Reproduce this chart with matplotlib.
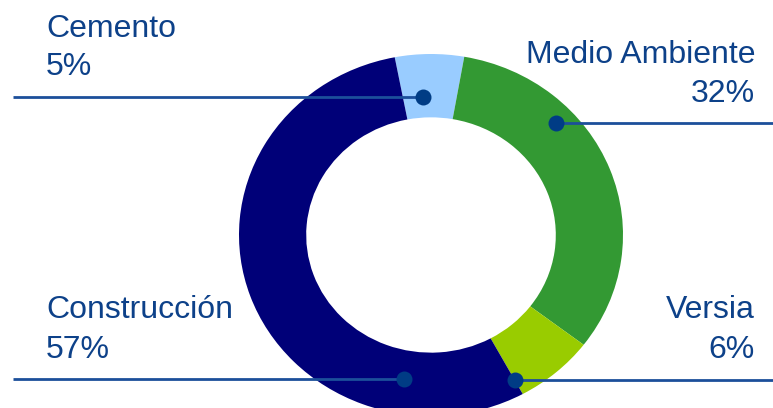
import matplotlib.pyplot as plt

# datos del gráfico
segmentos = ['Cemento', 'Medio Ambiente', 'Versia', 'Construcción']
porcentajes = ['5%', '32%', '6%', '57%']
cuotas = [5.8, 32.6, 6.7, 54.9]
colores = ['#99ccff', '#339933', '#99cc00', '#000078']

AZUL_TXT = '#0d4189'
AZUL_LINEA = '#1c4f9a'
AZUL_PUNTO = '#003c85'

W, H = 773, 408
fig = plt.figure(figsize=(W / 100, H / 100), dpi=100)
ax = fig.add_axes([0, 0, 1, 1])

# centro del anillo y escala (px por unidad) en cada eje
cx, cy = 431, 235
sx, sy = 192, 181

ax.pie(cuotas, colors=colores, startangle=100.9, counterclock=False,
       radius=1, wedgeprops=dict(width=0.35, linewidth=0))
ax.set_aspect('auto')
ax.set_xlim(-cx / sx, (W - cx) / sx)
ax.set_ylim(-(H - cy) / sy, cy / sy)
ax.axis('off')


def px(x, y):
    return (x - cx) / sx, (cy - y) / sy


# lineas guia: (y de la linea, x del punto, lado)
guias = [(97, 423, 'izq'), (123, 556, 'der'), (380, 515, 'der'), (379, 404, 'izq')]
for y, xp, lado in guias:
    x0 = 13 if lado == 'izq' else W
    a = px(x0, y)
    b = px(xp, y)
    ax.plot([a[0], b[0]], [a[1], b[1]], color=AZUL_LINEA, lw=2, clip_on=False,
            solid_capstyle='butt')
    ax.plot(b[0], b[1], 'o', ms=11.5, color=AZUL_PUNTO, mec='none', clip_on=False)

# etiquetas (x, baseline nombre, baseline porcentaje, alineacion)
pos_txt = [(46, 37, 75, 'left'), (755, 63, 102, 'right'),
           (755, 318, 358, 'right'), (46, 318, 358, 'left')]
for nombre, pct, (x, y1, y2, ha) in zip(segmentos, porcentajes, pos_txt):
    for t, y in ((nombre, y1), (pct, y2)):
        fig.text(x / W, 1 - y / H, t, ha=ha, va='baseline', fontsize=23,
                 color=AZUL_TXT, family='Liberation Sans')

fig.savefig('out.png', dpi=100)
